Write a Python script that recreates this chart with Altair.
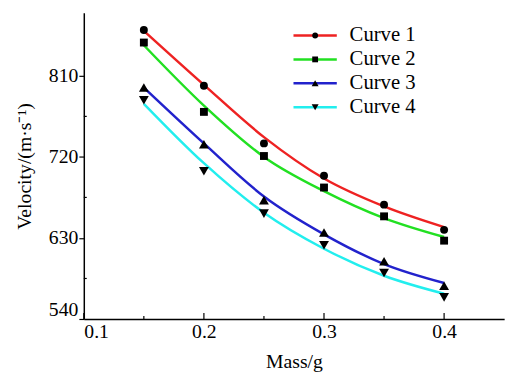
import altair as alt
import pandas as pd

# ---- data ----
mass = [0.15, 0.20, 0.25, 0.30, 0.35, 0.40]
names = ["Curve 1", "Curve 2", "Curve 3", "Curve 4"]
colors = ["#ee2222", "#22e022", "#2222cc", "#22eeee"]
shapes = ["circle", "square", "triangle-up", "triangle-down"]
sizes = [65, 64, 100, 100]

pts = {
    "Curve 1": [861, 799, 735, 699, 667, 639],
    "Curve 2": [847, 770, 721, 686, 654, 627],
    "Curve 3": [797, 734, 672, 636, 604, 577],
    "Curve 4": [783, 704, 657, 622, 591, 564],
}
fit = {
    "Curve 1": [860, 800, 742, 696, 665, 642],
    "Curve 2": [844, 777, 720, 682, 652, 631],
    "Curve 3": [797, 735, 676, 634, 601, 580],
    "Curve 4": [779, 713, 658, 618, 588, 568],
}

x_major = [0.1, 0.2, 0.3, 0.4]
x_minor = [0.15, 0.25, 0.35]
y_major = [540, 630, 720, 810]
y_minor = [585, 675, 765]

W, H = 427, 311
FONT = "Liberation Serif"
LBL = 20

pts_df = pd.DataFrame([
    {"mass": m, "v": v, "curve": n}
    for n in names for m, v in zip(mass, pts[n])
])
fit_df = pd.DataFrame([
    {"mass": m, "v": v, "curve": n}
    for n in names for m, v in zip(mass, fit[n])
])

xs = alt.Scale(domain=[0.1, 0.45], nice=False, zero=False)
ys = alt.Scale(domain=[540, 880], nice=False, zero=False)
xa = alt.Axis(values=x_major, format=".1f", ticks=False, grid=False,
              labelFont=FONT, labelFontSize=LBL, labelColor="black",
              labelPadding=3, title="Mass/g", titlePadding=10)
ya = alt.Axis(values=y_major, grid=False, tickSize=5, tickColor="black",
              tickWidth=1.2, labelFont=FONT, labelFontSize=LBL, labelColor="black",
              labelPadding=1, labelFlush=True,
              title="Velocity/(m·s⁻¹)", titlePadding=14)


def X(f):
    return alt.X(f, type="quantitative", scale=xs, axis=xa)


def Y(f):
    return alt.Y(f, type="quantitative", scale=ys, axis=ya)


cscale = alt.Scale(domain=names, range=colors)

lines = alt.Chart(fit_df).mark_line(interpolate="monotone", strokeWidth=2.5).encode(
    x=X("mass"), y=Y("v"),
    color=alt.Color("curve:N", scale=cscale, legend=None),
    detail="curve:N",
)
point_layers = []
for i, n in enumerate(names):
    point_layers.append(
        alt.Chart(pts_df[pts_df.curve == n]).mark_point(
            filled=True, color="black", size=sizes[i], opacity=1, shape=shapes[i]
        ).encode(x=X("mass"), y=Y("v"))
    )

xmaj_df = pd.DataFrame({"t": x_major})
xmin_df = pd.DataFrame({"t": x_minor})
ymin_df = pd.DataFrame({"t": y_minor})

xmaj_ticks = alt.Chart(xmaj_df).mark_rule(color="black", strokeWidth=1.2).encode(
    x=X("t"), y=alt.value(H), y2=alt.value(H - 6))
xmin_ticks = alt.Chart(xmin_df).mark_rule(color="black", strokeWidth=1.2).encode(
    x=X("t"), y=alt.value(H), y2=alt.value(H - 3))
ymin_ticks = alt.Chart(ymin_df).mark_rule(color="black", strokeWidth=1.2).encode(
    y=Y("t"), x=alt.value(0), x2=alt.value(3))

# ---- manual legend (line with marker in the middle) ----
LX0, LX1, LT = 213, 257, 270
LY0, DY = 23, 24.3
legend_layers = []
for i, n in enumerate(names):
    d = pd.DataFrame({"curve": [n]})
    yy = LY0 + i * DY
    legend_layers.append(alt.Chart(d).mark_rule(color=colors[i], strokeWidth=2.5).encode(
        x=alt.value(LX0), x2=alt.value(LX1), y=alt.value(yy)))
    legend_layers.append(alt.Chart(d).mark_point(filled=True, color="black",
                                                 size=35 if i < 2 else 50,
                                                 opacity=1, shape=shapes[i]).encode(
        x=alt.value((LX0 + LX1) / 2), y=alt.value(yy)))
    legend_layers.append(alt.Chart(d).mark_text(align="left", baseline="middle",
                                                font=FONT, fontSize=21, color="black").encode(
        x=alt.value(LT), y=alt.value(yy), text="curve:N"))

chart = alt.layer(
    lines, *point_layers, xmaj_ticks, xmin_ticks, ymin_ticks, *legend_layers
).properties(
    width=W, height=H,
    padding={"left": 77, "top": 2, "right": 10, "bottom": 55},
    autosize=alt.AutoSizeParams(type="none"),
).configure(font=FONT).configure_axis(
    labelFont=FONT, labelFontSize=LBL, labelColor="black",
    titleFont=FONT, titleFontSize=20, titleFontWeight="normal", titleColor="black",
    domainColor="black", domainWidth=1.5,
).configure_axisX(labelFont=FONT, labelFontSize=LBL).configure_axisY(
    labelFont=FONT, labelFontSize=LBL
).configure_view(strokeWidth=0)

chart.save("out.html", embed_options={"renderer": "svg", "actions": False})
